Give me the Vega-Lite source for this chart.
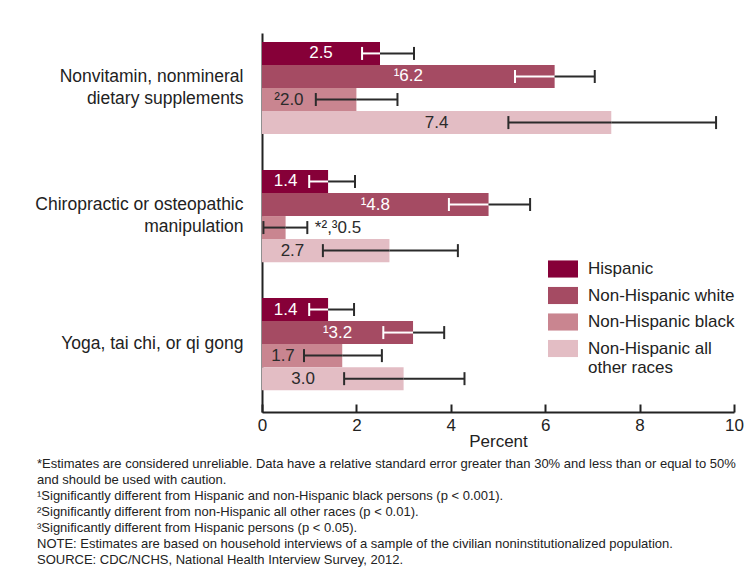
{
  "$schema": "https://vega.github.io/schema/vega-lite/v6.json",
  "autosize": "none",
  "width": 472,
  "height": 379,
  "padding": {"left": 262, "top": 33, "right": 22, "bottom": 175},
  "background": "white",
  "config": {
    "font": "Liberation Sans",
    "view": {"stroke": null}
  },
  "title": {
    "text": [
      "*Estimates are considered unreliable. Data have a relative standard error greater than 30% and less than or equal to 50%",
      "and should be used with caution.",
      "¹Significantly different from Hispanic and non-Hispanic black persons (p < 0.001).",
      "²Significantly different from non-Hispanic all other races (p < 0.01).",
      "³Significantly different from Hispanic persons (p < 0.05).",
      "NOTE: Estimates are based on household interviews of a sample of the civilian noninstitutionalized population.",
      "SOURCE: CDC/NCHS, National Health Interview Survey, 2012."
    ],
    "orient": "bottom",
    "anchor": "start",
    "frame": "group",
    "dx": -225,
    "offset": 9,
    "font": "Liberation Sans",
    "fontSize": 13,
    "fontWeight": "normal",
    "lineHeight": 16,
    "color": "#222"
  },
  "data": {
    "values": [
      {"activity": "Nonvitamin, nonmineral dietary supplements", "group": "Hispanic", "value": 2.5, "lower": 2.12, "upper": 3.22, "label": "2.5"},
      {"activity": "Nonvitamin, nonmineral dietary supplements", "group": "Non-Hispanic white", "value": 6.2, "lower": 5.36, "upper": 7.05, "label": "¹6.2"},
      {"activity": "Nonvitamin, nonmineral dietary supplements", "group": "Non-Hispanic black", "value": 2.0, "lower": 1.14, "upper": 2.87, "label": "²2.0"},
      {"activity": "Nonvitamin, nonmineral dietary supplements", "group": "Non-Hispanic all other races", "value": 7.4, "lower": 5.22, "upper": 9.62, "label": "7.4"},
      {"activity": "Chiropractic or osteopathic manipulation", "group": "Hispanic", "value": 1.4, "lower": 1.0, "upper": 1.97, "label": "1.4"},
      {"activity": "Chiropractic or osteopathic manipulation", "group": "Non-Hispanic white", "value": 4.8, "lower": 3.96, "upper": 5.68, "label": "¹4.8"},
      {"activity": "Chiropractic or osteopathic manipulation", "group": "Non-Hispanic black", "value": 0.5, "lower": 0.03, "upper": 0.96, "label": "*²,³0.5"},
      {"activity": "Chiropractic or osteopathic manipulation", "group": "Non-Hispanic all other races", "value": 2.7, "lower": 1.29, "upper": 4.15, "label": "2.7"},
      {"activity": "Yoga, tai chi, or qi gong", "group": "Hispanic", "value": 1.4, "lower": 1.0, "upper": 1.95, "label": "1.4"},
      {"activity": "Yoga, tai chi, or qi gong", "group": "Non-Hispanic white", "value": 3.2, "lower": 2.57, "upper": 3.86, "label": "¹3.2"},
      {"activity": "Yoga, tai chi, or qi gong", "group": "Non-Hispanic black", "value": 1.7, "lower": 0.89, "upper": 2.54, "label": "1.7"},
      {"activity": "Yoga, tai chi, or qi gong", "group": "Non-Hispanic all other races", "value": 3.0, "lower": 1.74, "upper": 4.29, "label": "3.0"}
    ]
  },
  "encoding": {
    "y": {
      "field": "activity",
      "type": "nominal",
      "sort": ["Nonvitamin, nonmineral dietary supplements", "Chiropractic or osteopathic manipulation", "Yoga, tai chi, or qi gong"],
      "scale": {"paddingInner": 0.28, "paddingOuter": 0.12, "align": 0.29},
      "axis": {
        "title": null,
        "ticks": false,
        "domainColor": "#222",
        "domainWidth": 2,
        "labelFontSize": 17.5,
        "labelColor": "#222",
        "labelPadding": 19,
        "labelLineHeight": 22,
        "labelLimit": 400,
        "labelOffset": {"condition": {"test": "datum.value == 'Yoga, tai chi, or qi gong'", "value": 0}, "value": -11},
        "labelExpr": "datum.label == 'Nonvitamin, nonmineral dietary supplements' ? ['Nonvitamin, nonmineral', 'dietary supplements'] : datum.label == 'Chiropractic or osteopathic manipulation' ? ['Chiropractic or osteopathic', 'manipulation'] : datum.label"
      }
    },
    "yOffset": {
      "field": "group",
      "type": "nominal",
      "sort": ["Hispanic", "Non-Hispanic white", "Non-Hispanic black", "Non-Hispanic all other races"],
      "scale": {"paddingInner": 0, "paddingOuter": 0}
    }
  },
  "layer": [
    {
      "mark": {"type": "bar", "opacity": 1},
      "encoding": {
        "x": {
          "field": "value",
          "type": "quantitative",
          "scale": {"domain": [0, 10], "nice": false},
          "axis": {
            "title": "Percent",
            "titleFontSize": 17,
            "titleFontWeight": "normal",
            "titleColor": "#222",
            "titlePadding": 0,
            "values": [0, 2, 4, 6, 8, 10],
            "grid": false,
            "domainColor": "#222",
            "domainWidth": 2,
            "tickColor": "#222",
            "tickWidth": 2,
            "tickSize": -8,
            "labelFontSize": 17,
            "labelColor": "#222",
            "labelPadding": 13,
            "labelFlush": false
          }
        },
        "color": {
          "field": "group",
          "type": "nominal",
          "sort": ["Hispanic", "Non-Hispanic white", "Non-Hispanic black", "Non-Hispanic all other races"],
          "scale": {
            "domain": ["Hispanic", "Non-Hispanic white", "Non-Hispanic black", "Non-Hispanic all other races"],
            "range": ["#860038", "#a54b63", "#c98590", "#e3bdc4"]
          },
          "legend": {
            "title": null,
            "orient": "none",
            "legendX": 286,
            "legendY": 221,
            "padding": 0,
            "symbolType": "M-1,-0.57H1V0.57H-1Z",
            "symbolSize": 900,
            "symbolStrokeWidth": 0,
            "symbolOpacity": 1,
            "labelFontSize": 17,
            "labelColor": "#222",
            "labelOffset": 10,
            "labelLimit": 300,
            "labelLineHeight": 20,
            "rowPadding": 2.5,
            "labelExpr": "datum.label == 'Non-Hispanic all other races' ? ['Non-Hispanic all', 'other races'] : datum.label"
          }
        }
      }
    },
    {
      "mark": {"type": "rule", "strokeWidth": 2},
      "encoding": {
        "x": {"field": "lower", "type": "quantitative"},
        "x2": {"field": "value"},
        "color": {"condition": {"test": "datum.group === 'Hispanic' || datum.group === 'Non-Hispanic white'", "value": "white"}, "value": "#2b2b2b"}
      }
    },
    {
      "mark": {"type": "rule", "strokeWidth": 2, "color": "#2b2b2b"},
      "encoding": {
        "x": {"field": "value", "type": "quantitative"},
        "x2": {"field": "upper"}
      }
    },
    {
      "mark": {"type": "tick", "thickness": 2, "size": 13, "opacity": 1},
      "encoding": {
        "x": {"field": "lower", "type": "quantitative"},
        "color": {"condition": {"test": "datum.group === 'Hispanic' || datum.group === 'Non-Hispanic white'", "value": "white"}, "value": "#2b2b2b"}
      }
    },
    {
      "mark": {"type": "tick", "thickness": 2, "size": 13, "opacity": 1, "color": "#2b2b2b"},
      "encoding": {
        "x": {"field": "upper", "type": "quantitative"}
      }
    },
    {
      "transform": [
        {"calculate": "datum.value / 2 + 0.35 < datum.lower - 0.1 ? datum.value / 2 : (datum.lower > 0.5 ? datum.lower / 2 : datum.upper + 0.65)", "as": "label_x"}
      ],
      "mark": {"type": "text", "fontSize": 17, "align": "center", "baseline": "middle"},
      "encoding": {
        "x": {"field": "label_x", "type": "quantitative"},
        "text": {"field": "label"},
        "color": {"condition": {"test": "datum.group === 'Hispanic' || datum.group === 'Non-Hispanic white'", "value": "white"}, "value": "#2b2b2b"}
      }
    }
  ]
}
